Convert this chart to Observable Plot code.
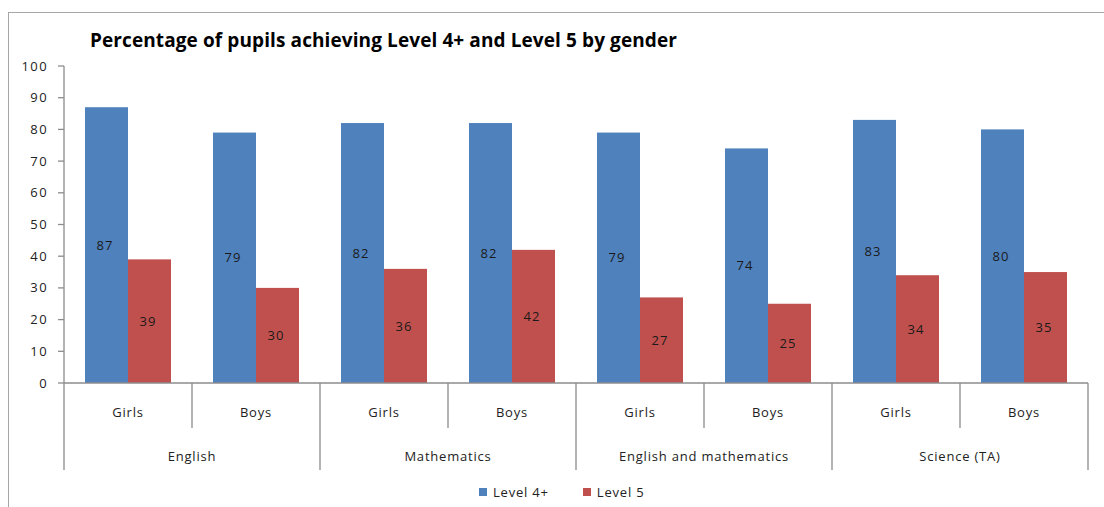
<!DOCTYPE html>
<html>
<head>
<meta charset="utf-8">
<script src="https://cdn.jsdelivr.net/npm/d3@7"></script>
<script src="https://cdn.jsdelivr.net/npm/@observablehq/plot@0.6"></script>
<style>
  body { margin: 0; background: #fff; }
  #chart { position: relative; width: 1104px; height: 507px; overflow: hidden; font-family: "Open Sans", Lato, sans-serif; }
  #frame { position: absolute; left: 8px; top: 12px; width: 1300px; height: 700px; border-left: 1.5px solid #a6a6a6; border-top: 1.5px solid #a6a6a6; }
  #title { position: absolute; left: 90px; top: 27px; font-weight: bold; font-size: 19px; letter-spacing: 0.1px; color: #000; white-space: nowrap; }
  #plot { position: absolute; left: 0; top: 55px; }
  #legend { position: absolute; left: 479px; top: 483px; display: flex; align-items: center; font-size: 13px; letter-spacing: 0.8px; color: #222; }
  .sw { display: inline-block; width: 8px; height: 8px; margin-right: 6px; }
  .item { display: flex; align-items: center; margin-right: 34px; }
</style>
</head>
<body>
<div id="chart">
  <div id="frame"></div>
  <div id="title">Percentage of pupils achieving Level 4+ and Level 5 by gender</div>
  <div id="plot"></div>
  <div id="legend"></div>
</div>
<script>
const subjects = ["English", "Mathematics", "English and mathematics", "Science (TA)"];
const genders = ["Girls", "Boys"];
const series = ["Level 4+", "Level 5"];
const seriesColors = ["#4F81BD", "#C0504D"];
const level4 = [87, 79, 82, 82, 79, 74, 83, 80];
const level5 = [39, 30, 36, 42, 27, 25, 34, 35];
const yTicks = [0, 10, 20, 30, 40, 50, 60, 70, 80, 90, 100];

const keys = [];
const rows = [];
subjects.forEach((s, i) => {
  genders.forEach((g, j) => {
    const key = s + "|" + g;
    const k = i * genders.length + j;
    keys.push(key);
    rows.push({key, subject: s, gender: g, series: series[0], value: level4[k]});
    rows.push({key, subject: s, gender: g, series: series[1], value: level5[k]});
  });
});

const FONT = "'Open Sans', Lato, sans-serif";

const plot = Plot.plot({
  width: 1104,
  height: 420,
  marginLeft: 61,
  marginRight: 14,
  marginTop: 11,
  marginBottom: 92,
  style: {fontFamily: FONT, fontSize: "13px", background: "transparent", color: "#222"},
  facet: {data: rows, x: "key"},
  fx: {domain: keys, padding: 0, axis: null},
  x: {domain: series, paddingInner: 0, paddingOuter: 0.48, axis: null},
  y: {domain: [0, 100], axis: null},
  color: {domain: series, range: seriesColors},
  marks: [
    Plot.barY(rows, {x: "series", y: "value", fill: "series"}),
    Plot.text(rows, {x: "series", y: d => d.value / 2, text: d => String(d.value), fill: "#1a1a1a", fontSize: 13, dx: -2})
  ]
});

document.getElementById("plot").appendChild(plot);

const svg = d3.select(plot.tagName.toLowerCase() === "svg" ? plot : plot.querySelector("svg"));
svg.selectAll("text").attr("letter-spacing", "1px");
const ys = plot.scale("y");
const fxs = plot.scale("fx");
const yPos = v => ys.apply(v);
const fxPos = k => fxs.apply(k);
const bw = fxs.bandwidth;
const axisColor = "#8c8c8c";
const textColor = "#222";
const x0 = fxPos(keys[0]);
const xEnd = fxPos(keys[keys.length - 1]) + bw;
const base = yPos(0);

const g = svg.append("g").attr("font-family", FONT).attr("font-size", 13).attr("letter-spacing", "0.8px");

// y axis line and ticks
g.append("line").attr("x1", x0).attr("x2", x0).attr("y1", yPos(100)).attr("y2", base)
  .attr("stroke", axisColor).attr("stroke-width", 1.3);
yTicks.forEach(t => {
  g.append("line").attr("x1", x0 - 6).attr("x2", x0).attr("y1", yPos(t)).attr("y2", yPos(t))
    .attr("stroke", axisColor).attr("stroke-width", 1.3);
  g.append("text").attr("x", x0 - 16).attr("y", yPos(t)).attr("dy", "0.35em")
    .attr("letter-spacing", "1.4px")
    .attr("text-anchor", "end").attr("fill", textColor).text(String(t));
});

// x axis baseline
g.append("line").attr("x1", x0).attr("x2", xEnd).attr("y1", base).attr("y2", base)
  .attr("stroke", axisColor).attr("stroke-width", 1.3);

// separators and labels
keys.forEach((k, i) => {
  const xl = fxPos(k);
  const isGroupStart = i % genders.length === 0;
  g.append("line").attr("x1", xl).attr("x2", xl).attr("y1", base)
    .attr("y2", base + (isGroupStart ? 87 : 45))
    .attr("stroke", axisColor).attr("stroke-width", 1.3);
  const row = rows.find(r => r.key === k);
  g.append("text").attr("x", xl + bw / 2).attr("y", base + 29).attr("dy", "0.35em")
    .attr("text-anchor", "middle").attr("fill", textColor).text(row.gender);
  if (isGroupStart) {
    g.append("text").attr("x", xl + bw * genders.length / 2).attr("y", base + 73).attr("dy", "0.35em")
      .attr("text-anchor", "middle").attr("fill", textColor).text(row.subject);
  }
});
g.append("line").attr("x1", xEnd).attr("x2", xEnd).attr("y1", base).attr("y2", base + 87)
  .attr("stroke", axisColor).attr("stroke-width", 1.3);

// legend
const legend = d3.select("#legend");
series.forEach((s, i) => {
  const item = legend.append("div").attr("class", "item");
  item.append("span").attr("class", "sw").style("background", seriesColors[i]);
  item.append("span").text(s);
});
</script>
</body>
</html>
